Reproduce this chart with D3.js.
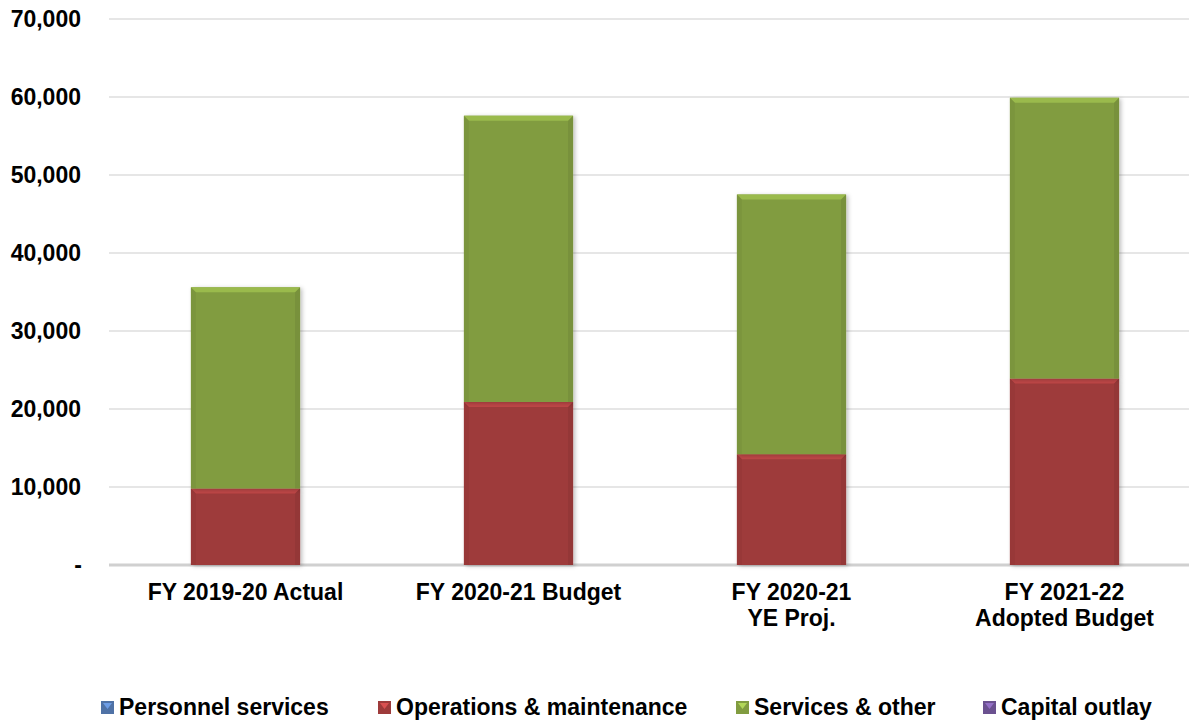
<!DOCTYPE html>
<html><head><meta charset="utf-8">
<script src="https://cdn.jsdelivr.net/npm/d3@7"></script>
<style>body{margin:0;background:#fff}svg{display:block;font-family:"Liberation Sans",Arial,sans-serif;font-weight:bold}</style>
</head><body><svg id="c" width="1189" height="721"></svg>
<script>
const categories = [["FY 2019-20 Actual"],["FY 2020-21 Budget"],["FY 2020-21","YE Proj."],["FY 2021-22","Adopted Budget"]];
const seriesNames = ["Personnel services","Operations & maintenance","Services & other","Capital outlay"];
const personnel = [0,0,0,0];
const operations = [9800,20900,14200,23900];
const services = [25800,36700,33300,36000];
const capital = [0,0,0,0];
const yTicks = [0,10000,20000,30000,40000,50000,60000,70000];
const colors = ["#4f72a6","#9e3b3b","#819c40","#6b5190"];

const svg = d3.select("#c");
const mLeft = 109, mRight = 1201, mTop = 19, mBottom = 565;
const x = d3.scaleBand().domain(d3.range(categories.length)).range([mLeft,mRight]).paddingInner(0.6).paddingOuter(0.3);
const y = d3.scaleLinear().domain([0,70000]).range([mBottom,mTop]);

// gridlines
svg.append("g").selectAll("line").data(yTicks).join("line")
  .attr("x1",mLeft).attr("x2",1189).attr("y1",d=>y(d)).attr("y2",d=>y(d))
  .attr("stroke",d=>d===0?"#d0d0d0":"#dedede").attr("stroke-width",d=>d===0?3:1.5);

// y labels
svg.append("g").selectAll("text").data(yTicks).join("text")
  .attr("x",d=>d===0?82:81).attr("y",d=>y(d)+8).attr("text-anchor","end").attr("font-size",23).attr("fill","#000")
  .text(d=>d===0?"-":d3.format(",")(d));

const data = [personnel,operations,services,capital];
const stack = categories.map((c,i)=>{let acc=0;return data.map((s,k)=>{const y0=acc;acc+=s[i];return {k,i,y0,y1:acc};});});

const defs = svg.append("defs");
const f = defs.append("filter").attr("id","sh").attr("x","-10%").attr("y","-10%").attr("width","130%").attr("height","130%");
f.append("feDropShadow").attr("dx",2).attr("dy",1).attr("stdDeviation",2).attr("flood-opacity",0.25);

const bars = svg.append("g");
stack.forEach(col=>col.forEach(s=>{
  if(s.y1-s.y0<=0) return;
  const x0 = x(s.i), w = x.bandwidth(), yt = y(s.y1), yb = y(s.y0);
  const c = d3.color(colors[s.k]);
  const g = bars.append("g");
  g.append("rect").attr("x",x0).attr("y",yt).attr("width",w).attr("height",yb-yt).attr("fill",colors[s.k]).attr("filter","url(#sh)");
  const b = 5;
  g.append("path").attr("d",`M${x0},${yt}L${x0+w},${yt}L${x0+w-b},${yt+b}L${x0+b},${yt+b}Z`).attr("fill",c.brighter(0.5));
  g.append("path").attr("d",`M${x0},${yt}L${x0+b},${yt+b}L${x0+b},${yb}L${x0},${yb}Z`).attr("fill",c.darker(0.3)).attr("opacity",0.4);
  g.append("path").attr("d",`M${x0+w},${yt}L${x0+w-b},${yt+b}L${x0+w-b},${yb}L${x0+w},${yb}Z`).attr("fill",c.darker(0.5)).attr("opacity",0.4);
}));

// x labels
const xl = svg.append("g");
categories.forEach((lines,i)=>{
  const cx = x(i)+x.bandwidth()/2;
  const t = xl.append("text").attr("x",cx).attr("y",600).attr("text-anchor","middle").attr("font-size",23).attr("fill","#000");
  lines.forEach((l,j)=>t.append("tspan").attr("x",cx).attr("dy",j?26:0).text(l));
});

// legend
const legX = [101,378,736,983];
const lg = svg.append("g");
seriesNames.forEach((n,k)=>{
  const c = d3.color(colors[k]);
  lg.append("rect").attr("x",legX[k]).attr("y",701).attr("width",13).attr("height",13).attr("fill",colors[k]);
  lg.append("path").attr("d",`M${legX[k]+2},703L${legX[k]+11},703L${legX[k]+6.5},709Z`).attr("fill",c.brighter(0.9));
  lg.append("text").attr("x",legX[k]+18).attr("y",715).attr("font-size",23).attr("fill","#000").text(n);
});
</script></body></html>
